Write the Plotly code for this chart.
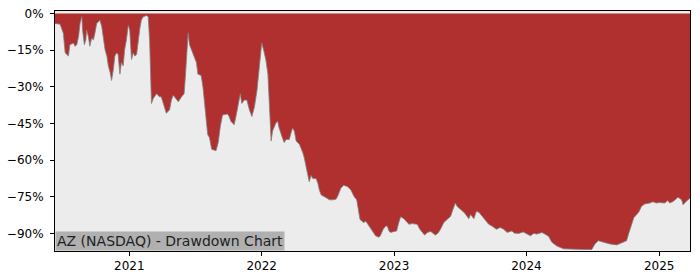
import plotly.graph_objects as go

# Drawdown series (date, drawdown %)
dates = [
    "2020-06-10", "2020-06-24", "2020-07-03", "2020-07-08", "2020-07-17", "2020-07-21", "2020-07-31",
    "2020-08-04", "2020-08-09", "2020-08-14", "2020-08-18", "2020-08-23", "2020-08-25", "2020-08-30",
    "2020-09-03", "2020-09-05", "2020-09-10", "2020-09-14", "2020-09-19", "2020-09-24", "2020-09-28",
    "2020-10-03", "2020-10-08", "2020-10-12", "2020-10-17", "2020-10-21", "2020-10-26", "2020-10-31",
    "2020-11-04", "2020-11-09", "2020-11-13", "2020-11-18", "2020-11-22", "2020-11-27", "2020-12-01",
    "2020-12-06", "2020-12-10", "2020-12-15", "2020-12-19", "2020-12-24", "2020-12-29", "2021-01-02",
    "2021-01-07", "2021-01-12", "2021-01-16", "2021-01-21", "2021-01-25", "2021-01-30", "2021-02-03",
    "2021-02-08", "2021-02-12", "2021-02-17", "2021-02-22", "2021-02-26", "2021-03-03", "2021-03-08",
    "2021-03-17", "2021-03-25", "2021-03-30", "2021-04-08", "2021-04-13", "2021-04-22", "2021-04-27",
    "2021-05-02", "2021-05-16", "2021-05-25", "2021-06-01", "2021-06-05", "2021-06-12", "2021-06-16",
    "2021-06-26", "2021-07-05", "2021-07-09", "2021-07-18", "2021-07-23", "2021-07-27", "2021-08-01",
    "2021-08-05", "2021-08-10", "2021-08-16", "2021-08-28", "2021-09-03", "2021-09-09", "2021-09-15",
    "2021-09-29", "2021-10-03", "2021-10-08", "2021-10-17", "2021-10-22", "2021-10-28", "2021-11-03",
    "2021-11-07", "2021-11-14", "2021-11-21", "2021-11-28", "2021-12-05", "2021-12-12", "2021-12-19",
    "2021-12-26", "2022-01-01", "2022-01-07", "2022-01-13", "2022-01-18", "2022-01-22", "2022-01-27",
    "2022-01-31", "2022-02-09", "2022-02-14", "2022-02-18", "2022-02-27", "2022-03-04", "2022-03-09",
    "2022-03-18", "2022-03-23", "2022-03-27", "2022-04-01", "2022-04-06", "2022-04-15", "2022-04-19",
    "2022-04-24", "2022-04-28", "2022-05-03", "2022-05-08", "2022-05-12", "2022-05-17", "2022-05-22",
    "2022-05-31", "2022-06-05", "2022-06-09", "2022-06-14", "2022-06-23", "2022-07-07", "2022-07-16",
    "2022-07-25", "2022-07-31", "2022-08-07", "2022-08-15", "2022-08-26", "2022-09-04", "2022-09-13",
    "2022-09-20", "2022-09-24", "2022-09-29", "2022-10-09", "2022-10-15", "2022-10-24", "2022-11-02",
    "2022-11-11", "2022-11-20", "2022-11-24", "2022-12-02", "2022-12-09", "2022-12-13", "2022-12-18",
    "2022-12-22", "2023-01-01", "2023-01-08", "2023-01-14", "2023-01-19", "2023-01-28", "2023-02-05",
    "2023-02-11", "2023-02-20", "2023-03-06", "2023-03-13", "2023-03-20", "2023-03-26", "2023-04-03",
    "2023-04-12", "2023-04-19", "2023-04-25", "2023-05-02", "2023-05-09", "2023-05-18", "2023-05-29",
    "2023-06-06", "2023-06-12", "2023-06-19", "2023-06-24", "2023-07-01", "2023-07-08", "2023-07-14",
    "2023-07-22", "2023-07-26", "2023-07-31", "2023-08-04", "2023-08-09", "2023-08-16", "2023-08-23",
    "2023-09-01", "2023-09-10", "2023-09-19", "2023-09-28", "2023-10-10", "2023-10-21", "2023-10-30",
    "2023-11-09", "2023-11-22", "2023-11-29", "2023-12-11", "2023-12-23", "2024-01-03", "2024-01-12",
    "2024-01-21", "2024-01-30", "2024-02-13", "2024-02-22", "2024-03-02", "2024-03-11", "2024-03-25",
    "2024-04-12", "2024-05-10", "2024-06-06", "2024-06-29", "2024-07-08", "2024-07-17", "2024-07-31",
    "2024-08-18", "2024-09-06", "2024-09-24", "2024-10-03", "2024-10-10", "2024-10-17", "2024-10-23",
    "2024-10-31", "2024-11-07", "2024-11-13", "2024-11-22", "2024-12-06", "2024-12-15", "2024-12-24",
    "2025-01-02", "2025-01-16", "2025-01-25", "2025-01-30", "2025-02-08", "2025-02-16", "2025-02-22",
    "2025-03-04", "2025-03-08", "2025-03-16", "2025-03-22", "2025-03-27",
]
drawdown = [
    -4.1, -4.4, -8.1, -16.1, -17.4, -12.8, -12.1,
    -13.4, -12.8, -9.4, -4.1, -1.2, -6.8, -12.8,
    -10.8, -6.8, -9.4, -13.4, -10.1, -10.8, -8.1,
    -4.1, -3.4, -2.8, -5.4, -9.4, -14.8, -17.4,
    -21.4, -24.1, -27.4, -22.8, -17.4, -16.1, -16.8,
    -24.8, -20.1, -21.4, -14.8, -10.8, -4.8, -6.8,
    -18.8, -16.1, -17.4, -16.8, -10.8, -6.1, -2.8,
    -1.4, -1.2, -0.8, -1.4, -11.3, -36.8, -34.8,
    -32.8, -34.1, -34.1, -38.1, -40.8, -39.4, -35.4,
    -33.4, -36.1, -34.1, -32.8, -24.8, -8.1, -12.8,
    -16.8, -20.1, -24.8, -25.4, -30.1, -36.8, -42.1,
    -49.5, -50.8, -55.5, -56.1, -52.8, -46.1, -41.5,
    -41.1, -42.1, -44.1, -45.5, -42.1, -36.8, -32.8,
    -36.8, -35.4, -35.4, -39.4, -42.1, -38.1, -31.4,
    -22.1, -12.1, -15.4, -19.4, -24.8, -38.1, -52.1,
    -48.1, -44.8, -44.1, -46.8, -50.8, -52.8, -51.5,
    -51.5, -48.8, -46.8, -48.1, -52.1, -53.5, -54.8,
    -56.8, -58.8, -62.2, -64.8, -68.8, -66.2, -67.5,
    -67.5, -69.5, -72.2, -74.2, -74.9, -76.2, -76.2,
    -75.9, -74.2, -71.5, -70.2, -70.8, -72.2, -74.9,
    -76.2, -79.5, -84.2, -85.5, -84.9, -86.9, -88.9,
    -90.9, -91.5, -90.9, -88.2, -86.9, -86.9, -88.9,
    -89.5, -89.3, -88.9, -85.5, -83.1, -83.9, -85.3,
    -86.2, -85.9, -86.2, -88.2, -89.5, -90.6, -89.5,
    -89.1, -89.9, -90.6, -89.8, -88.2, -85.5, -84.2,
    -82.9, -80.2, -77.5, -78.9, -79.9, -80.9, -81.5,
    -83.1, -83.9, -82.2, -82.9, -83.9, -80.9, -81.3,
    -82.9, -84.5, -86.2, -86.9, -88.2, -87.5, -88.2,
    -89.5, -88.9, -89.8, -89.9, -89.3, -90.2, -90.9,
    -89.9, -90.2, -89.5, -90.2, -91.1, -93.5, -95.1,
    -96.2, -96.5, -96.5, -96.5, -94.2, -92.9, -93.5,
    -94.2, -94.6, -93.5, -92.9, -89.5, -86.2, -83.5,
    -82.2, -80.9, -78.9, -77.9, -77.5, -77.0, -77.5,
    -77.3, -77.5, -76.5, -77.5, -76.9, -75.9, -75.1,
    -76.2, -78.2, -76.9, -75.9, -75.5,
]

y_ticks = [0, -15, -30, -45, -60, -75, -90]
y_tick_labels = ["0%", "\u221215%", "\u221230%", "\u221245%", "\u221260%", "\u221275%", "\u221290%"]
x_ticks = ["2021-01-01", "2022-01-01", "2023-01-01", "2024-01-01", "2025-01-01"]
x_tick_labels = ["2021", "2022", "2023", "2024", "2025"]
title_text = "AZ (NASDAQ) - Drawdown Chart"

fig = go.Figure()
fig.add_trace(go.Scatter(
    x=dates, y=drawdown, mode="lines", fill="tozeroy",
    fillcolor="rgb(176,48,48)",
    line=dict(color="rgb(128,128,128)", width=0.8),
    hoverinfo="skip", showlegend=False,
))

font_family = "DejaVu Sans"
fig.update_layout(
    width=700, height=280,
    margin=dict(l=53, r=10, t=7, b=28),
    paper_bgcolor="white",
    plot_bgcolor="rgb(236,236,236)",
    font=dict(family=font_family, size=12, color="black"),
    showlegend=False,
    xaxis=dict(
        range=[dates[0], dates[-1]],
        tickvals=x_ticks, ticktext=x_tick_labels,
        showgrid=False, zeroline=False,
        showline=True, linecolor="black", linewidth=1, mirror=True,
        ticks="outside", ticklen=4, tickcolor="black",
        tickfont=dict(family=font_family, size=12, color="black"),
    ),
    yaxis=dict(
        range=[-97.1, 1.0],
        tickvals=y_ticks, ticktext=y_tick_labels,
        showgrid=False, zeroline=False,
        showline=True, linecolor="black", linewidth=1, mirror=True,
        ticks="outside", ticklen=4, tickcolor="black",
        ticklabelstandoff=4,
        tickfont=dict(family=font_family, size=12, color="black"),
    ),
    annotations=[dict(
        text=title_text, xref="paper", yref="paper", x=0, y=0,
        xanchor="left", yanchor="bottom", showarrow=False,
        font=dict(family=font_family, size=14, color="rgb(30,30,30)"),
        bgcolor="rgb(176,176,176)", borderpad=1,
    )],
)

fig.write_html("out.html")
